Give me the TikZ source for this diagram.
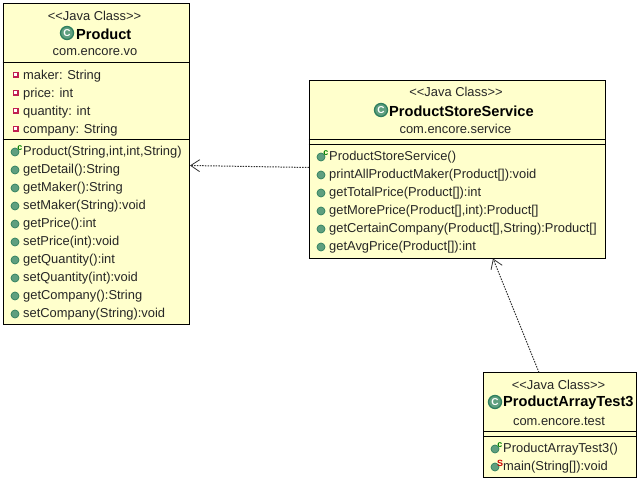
\documentclass[tikz,border=0pt]{standalone}
\usepackage{fontspec}
\setmainfont{Liberation Sans}
\usepackage{xcolor}
\usepackage{tikz}
\usetikzlibrary{positioning}
\usetikzlibrary{arrows.meta}
\definecolor{classfill}{HTML}{FFFFCC}
\definecolor{icongreen}{HTML}{5F9F7F}
\definecolor{iconedge}{HTML}{2F7F5F}
\definecolor{squarered}{HTML}{C02050}
\tikzset {
  x=1pt, y=-1pt,
  % class rectangle
  classbox/.style = {draw=black, fill=classfill, line width=1pt, minimum width=#1, inner sep=0pt},
  % all texts
  label/.style = {inner sep=0pt, font=\fontsize{12.9}{15}\selectfont, text=black!85},
  head/.style = {label, anchor=center},
  title/.style = {label, anchor=west, font=\fontsize{14.6}{16}\bfseries\selectfont, text=black},
  member/.style = {label, anchor=west},
  % class icon and member icons
  classicon/.style = {circle, draw=iconedge, fill=icongreen, line width=1.3pt, minimum size=13pt, inner sep=0pt, text=white, font=\fontsize{10}{10}\bfseries\selectfont},
  dot/.style = {circle, draw=iconedge, fill=icongreen, line width=0.7pt, minimum size=8pt, inner sep=0pt},
  square/.style = {rectangle, draw=squarered, fill=white, line width=1.5pt, minimum size=4.5pt, inner sep=0pt},
  ctor/.style = {inner sep=0pt, text=green!50!black, font=\fontsize{9}{9}\bfseries\selectfont},
  stat/.style = {inner sep=0pt, text=red!80!black, font=\fontsize{9}{9}\bfseries\selectfont},
  % dependency
  depend/.style = {dash pattern=on 1.5pt off 1.2pt, draw=black!80, line width=1pt, -{Straight Barb[length=9pt,width=12pt,line width=0.8pt]}},
}
\begin{document}
\begin{tikzpicture}
  \useasboundingbox (0,-1) rectangle (641,480);

  % boxes
  \node[classbox=186pt, minimum height=321pt] (product) at (96,163) {};
  \node[classbox=296pt, minimum height=178pt] (service) at (457,168.5) {};
  \node[classbox=153pt, minimum height=105pt] (test) at (560,424) {};

  \draw (product.west |- 0,61.5) -- (product.east |- 0,61.5);
  \draw (product.west |- 0,138.5) -- (product.east |- 0,138.5);
  \draw (service.west |- 0,138.5) -- (service.east |- 0,138.5);
  \draw (service.west |- 0,143.5) -- (service.east |- 0,143.5);
  \draw (test.west |- 0,430.5) -- (test.east |- 0,430.5);
  \draw (test.west |- 0,435.5) -- (test.east |- 0,435.5);

  % Product
  \node[head] (p1) at (94.5,15) {<{}<Java Class>{}>};
  \node[classicon] (pc) at (67,32) {C};
  \node[title] (p2) at (76,33) {Product};
  \node[head] (p3) at (95,51) {com.encore.vo};

  \foreach \i/\t in {0/{maker: String}, 1/{price: int}, 2/{quantity: int}, 3/{company: String}} {
    \node[square] (pa\i) at (15.5,74+18*\i) {};
    \node[member] (pt\i) at (23,75+18*\i) {\t};
  }

  \foreach \i/\t in {0/{Product(String,int,int,String)}, 1/{getDetail():String}, 2/{getMaker():String},
    3/{setMaker(String):void}, 4/{getPrice():int}, 5/{setPrice(int):void}, 6/{getQuantity():int},
    7/{setQuantity(int):void}, 8/{getCompany():String}, 9/{setCompany(String):void}} {
    \node[dot] (pd\i) at (15,151+18*\i) {};
    \node[member] (pm\i) at (23,151.5+18*\i) {\t};
  }
  \node[ctor] (pk) at (20,147) {c};

  % ProductStoreService
  \node[head] (s1) at (456,91) {<{}<Java Class>{}>};
  \node[classicon] (sc) at (381,109) {C};
  \node[title] (s2) at (389,110) {ProductStoreService};
  \node[head] (s3) at (455.5,128) {com.encore.service};

  \foreach \i/\t in {0/{ProductStoreService()}, 1/{printAllProductMaker(Product[]):void}, 2/{getTotalPrice(Product[]):int},
    3/{getMorePrice(Product[],int):Product[]}, 4/{getCertainCompany(Product[],String):Product[]}, 5/{getAvgPrice(Product[]):int}} {
    \node[dot] (sd\i) at (321,156+18*\i) {};
    \node[member] (sm\i) at (329,156.5+18*\i) {\t};
  }
  \node[ctor] (sk) at (326,152) {c};

  % ProductArrayTest3
  \node[head] (t1) at (558.5,384) {<{}<Java Class>{}>};
  \node[classicon] (tc) at (495,401) {C};
  \node[title] (t2) at (503,402) {ProductArrayTest3};
  \node[head] (t3) at (559,420) {com.encore.test};

  \node[dot] (td0) at (495,448) {};
  \node[member] (tm0) at (503,448.5) {ProductArrayTest3()};
  \node[ctor] (tk) at (500,444) {c};
  \node[dot] (td1) at (495,466) {};
  \node[member] (tm1) at (503,466.5) {main(String[]):void};
  \node[stat] (ts) at (500,462) {S};

  % dependencies
  \coordinate (sout) at (309,166.5);
  \coordinate (pin) at (190,164.5);
  \coordinate (tout) at (539,371.5);
  \coordinate (sin) at (493,257.5);
  \draw[depend] (sout) -- (pin);
  \draw[depend] (tout) -- (sin);
\end{tikzpicture}
\end{document}
